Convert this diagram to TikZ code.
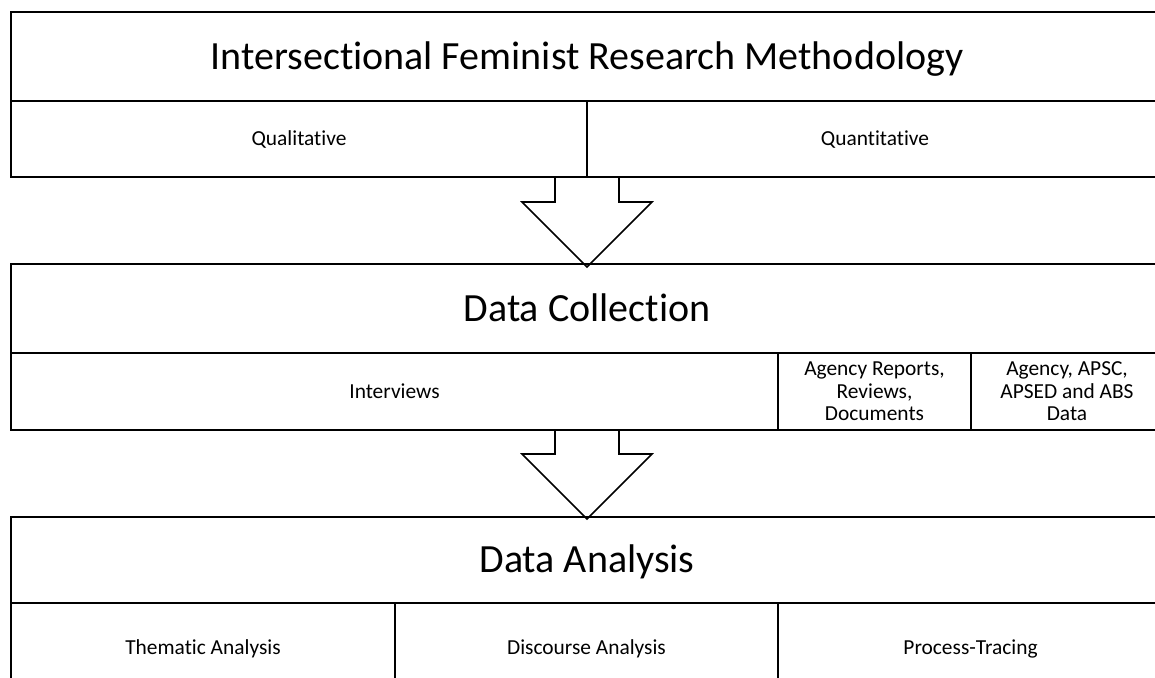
\documentclass[tikz,border=0pt]{standalone}
\usepackage{fontspec}
\setmainfont{Carlito}[Ligatures={NoCommon}]
\usetikzlibrary{calc,backgrounds}
\begin{document}
\begin{tikzpicture}[x=1pt,y=-1pt,
  cellbase/.style={draw=black, line width=1.6pt, anchor=north west, inner sep=0pt, outer sep=0pt,
    align=center, font=\fontsize{21.4}{22.5}\selectfont},
  % capitals centred in the cell
  cell/.style={cellbase, text height=13.8pt, text depth=0pt},
  multicell/.style={cellbase},
  titlecell/.style={cellbase, font=\fontsize{40}{48}\selectfont, text height=25.8pt, text depth=0pt},
  blockarrow/.style={draw=black, line width=1.6pt, fill=white, line join=miter}]
\useasboundingbox (0,0) rectangle (1155,677);
\clip (0,0) rectangle (1155,677);

% Methodology
\node[titlecell, minimum width=1152pt, minimum height=89pt] (method) at (11,12) {Intersectional Feminist Research Methodology};
\node[cell, minimum width=576pt, minimum height=76pt] (qual) at (11,101) {Qualitative};
\node[cell, minimum width=576pt, minimum height=76pt] (quant) at (587,101) {Quantitative};

% Data collection
\node[titlecell, minimum width=1152pt, minimum height=89pt] (collect) at (11,264) {Data Collection};
\node[cell, minimum width=767pt, minimum height=77pt] (interviews) at (11,353) {Interviews};
\node[multicell, minimum width=193pt, minimum height=77pt] (reports) at (778,353) {Agency Reports,\\Reviews,\\Documents};
\node[multicell, minimum width=192pt, minimum height=77pt] (abs) at (971,353) {Agency, APSC,\\APSED and ABS\\Data};

% Data analysis
\node[titlecell, minimum width=1152pt, minimum height=86pt] (analysis) at (11,517) {Data Analysis};
\node[cell, minimum width=384pt, minimum height=90pt] (thematic) at (11,603) {Thematic Analysis};
\node[cell, minimum width=383pt, minimum height=90pt] (discourse) at (395,603) {Discourse Analysis};
\node[cell, minimum width=385pt, minimum height=90pt] (tracing) at (778,603) {Process-Tracing};

% Block arrows between the stages, kept behind the cell borders
\begin{pgfonlayer}{background}
\coordinate (a1) at (qual.south east);
\draw[blockarrow] ($(a1)+(-32,0)$) -- ++(0,25) -- ++(-33,0)
  -- ($(collect.north)+(0,3)$) -- ($(a1)+(65,25)$) -- ++(-33,0) -- ($(a1)+(32,0)$);
\coordinate (a2) at (interviews.south -| collect.north);
\draw[blockarrow] ($(a2)+(-32,0)$) -- ++(0,24) -- ++(-33,0)
  -- ($(analysis.north)+(0,2)$) -- ($(a2)+(65,24)$) -- ++(-33,0) -- ($(a2)+(32,0)$);
\end{pgfonlayer}
\end{tikzpicture}
\end{document}
